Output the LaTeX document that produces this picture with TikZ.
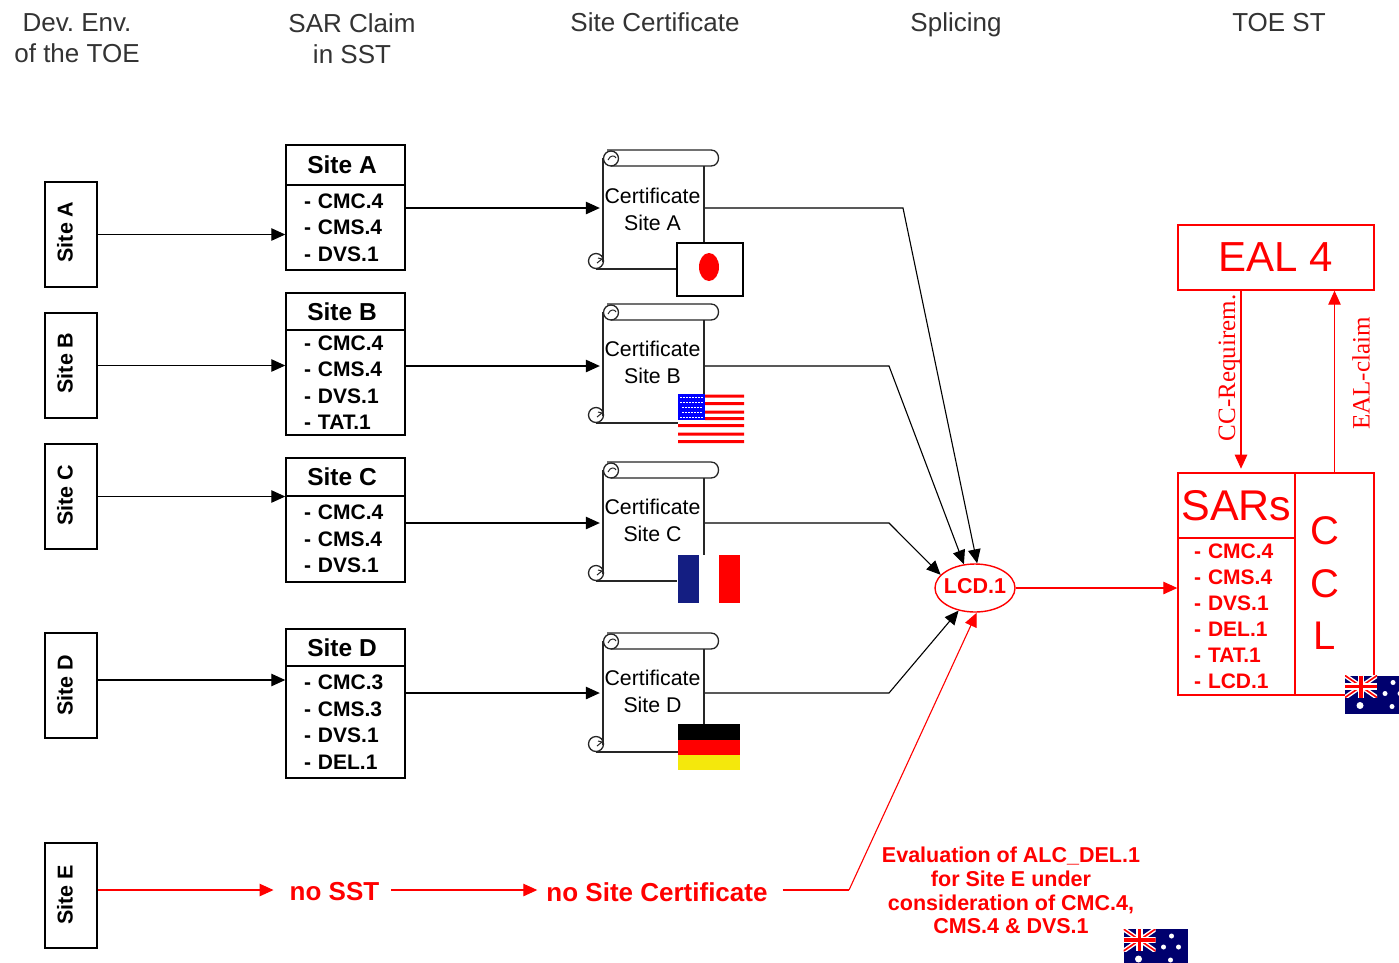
\documentclass[tikz,border=0pt]{standalone}
\usepackage{fontspec}
\setmainfont{Liberation Sans}
\newfontfamily\claimfont{Liberation Serif}
\usetikzlibrary{arrows.meta,shapes.geometric}
\definecolor{flagnavy}{RGB}{0,0,110}
\definecolor{frblue}{RGB}{20,30,130}
\newcommand{\fsz}[1]{\fontsize{#1}{#1}\selectfont}
\tikzset{
  scroll/.pic={
    \draw[line width=1.3pt,black!85] (4,0) -- (108,0) .. controls (118,0) and (118,16) .. (108,16) -- (8,16);
    \draw[line width=1.3pt,black!85] (8,8.5) circle[radius=7.5pt];
    \draw[line width=1pt,black!85] (5,10) .. controls (7,5) and (12,5) .. (13,8);
    \draw[line width=1.3pt,black!85] (0,8) -- (0,112);
    \draw[line width=1.3pt,black!85] (101,16) -- (101,119) -- (-7,119);
    \draw[line width=1.3pt,black!85] (-7,111) circle[radius=7.5pt];
    \draw[line width=1pt,black!85] (-6,113) -- (-1,109) -- (-5,108);
  },
  ausflag/.pic={
    \fill[flagnavy] (0,0) rectangle (64,38);
    \begin{scope}
      \clip (0,0) rectangle (32,22);
      \draw[white,line width=4.5pt] (0,0) -- (32,22) (32,0) -- (0,22);
      \draw[red,line width=1.6pt] (0,0) -- (32,22) (32,0) -- (0,22);
      \draw[white,line width=6.5pt] (16,0) -- (16,22) (0,11) -- (32,11);
      \draw[red,line width=3.5pt] (16,0) -- (16,22) (0,11) -- (32,11);
    \end{scope}
    \fill[white] (48,7) circle[radius=2.5pt] (40,18) circle[radius=2.5pt] (55,18) circle[radius=2.5pt];
    \fill[white] (15,30) circle[radius=3.5pt] (47,31) circle[radius=2.5pt];
  }
}
\begin{document}
\begin{tikzpicture}[x=1pt,y=-1pt,
  headtwo/.style={font=\fsz{26},text=black!80,align=center,inner ysep=0pt},
  head/.style={headtwo,text height=18pt,text depth=5pt},
  sitebox/.style={rectangle,draw,line width=1.5pt,minimum width=52pt,minimum height=105pt},
  sitelab/.style={font=\fsz{21.5}\bfseries,rotate=90,inner sep=0pt},
  sarhead/.style={rectangle,draw,line width=1.7pt,minimum width=119pt,font=\fsz{24.5}\bfseries,inner sep=0pt,execute at end node=\hspace*{7pt}},
  sarlist/.style={rectangle,draw,line width=1.5pt,minimum width=119pt,text width=83pt,inner xsep=18pt,inner ysep=0pt,align=left,font=\fontsize{21}{26.5}\selectfont\bfseries},
  certtext/.style={minimum width=105pt,minimum height=90pt,inner sep=0pt,align=center,font=\fontsize{21.3}{27}\selectfont},
  conn/.style={line width=1.1pt,-{Triangle[length=14pt,width=12.5pt]}},
  redconn/.style={conn,red},
  redbox/.style={rectangle,draw=red,line width=1.4pt,text=red,inner sep=0pt},
  redtext/.style={text=red,font=\fsz{26}\bfseries,inner xsep=12pt,inner ysep=0pt},
  claim/.style={text=red,font=\fsz{25}\claimfont,rotate=90,inner sep=0pt}]
\clip (0,0) rectangle (1399,962);
\fill[white] (0,0) rectangle (1399,962);
% column titles
\node[headtwo] (hdev) at (77,38.5) {Dev.\ Env.\\[5pt]of the TOE};
\node[headtwo] (hsar) at (352,38.5) {SAR Claim\\[5pt]in SST};
\node[head] (hcert) at (655,24.5) {Site Certificate};
\node[head] (hspl) at (956,24.5) {Splicing};
\node[head] (htoe) at (1279,24.5) {TOE ST};
% sites
\node[sitebox] (sitea) at (71,234.5) {};
\node[sitebox] (siteb) at (71,365.5) {};
\node[sitebox] (sitec) at (71,496.5) {};
\node[sitebox] (sited) at (71,685.5) {};
\node[sitebox] (sitee) at (71,895.5) {};
\node[sitelab] (laba) at (65,232) {Site A};
\node[sitelab] (labb) at (65,363) {Site B};
\node[sitelab] (labc) at (65,495) {Site C};
\node[sitelab] (labd) at (65,685) {Site D};
\node[sitelab] (labe) at (65,895) {Site E};
% SAR claims
\node[sarhead,minimum height=40pt] (sarah) at (345.5,165) {Site A};
\node[sarlist,minimum height=85pt] (saral) at (345.5,227.5) {- CMC.4\\- CMS.4\\- DVS.1};
\node[sarhead,minimum height=37pt] (sarbh) at (345.5,311.5) {Site B};
\node[sarlist,minimum height=105pt] (sarbl) at (345.5,382.5) {- CMC.4\\- CMS.4\\- DVS.1\\- TAT.1};
\node[sarhead,minimum height=38pt] (sarch) at (345.5,477) {Site C};
\node[sarlist,minimum height=86pt] (sarcl) at (345.5,539) {- CMC.4\\- CMS.4\\- DVS.1};
\node[sarhead,minimum height=37pt] (sardh) at (345.5,647.5) {Site D};
\node[sarlist,minimum height=112pt] (sardl) at (345.5,722) {- CMC.3\\- CMS.3\\- DVS.1\\- DEL.1};
% certificates
\pic at (603,150) {scroll};
\pic at (603,304) {scroll};
\pic at (603,462) {scroll};
\pic at (603,633) {scroll};
\node[certtext] (certa) at (652.5,209.5) {Certificate\\Site A};
\node[certtext] (certb) at (652.5,362.5) {Certificate\\Site B};
\node[certtext] (certc) at (652.5,520) {Certificate\\Site C};
\node[certtext] (certd) at (652.5,691) {Certificate\\Site D};
% flags
\draw[fill=white,line width=1.3pt] (677,243) rectangle (743,296);
\fill[red] (709,267) ellipse[x radius=10pt,y radius=14pt];
\fill[white] (678,394) rectangle (744,444);
\fill[red] (705,394.5) rectangle (744,397.5) (705,402) rectangle (744,405) (705,410.5) rectangle (744,413.5) (705,417) rectangle (744,420);
\fill[red] (678,424) rectangle (744,427) (678,432.5) rectangle (744,435.5) (678,440) rectangle (744,443);
\fill[blue] (678,394) rectangle (705,420);
\draw[white,line width=1pt,dash pattern=on 1.5pt off 1.5pt] (680,397) -- (704,397) (680,402) -- (704,402) (682,407) -- (702,407) (682,412) -- (702,412) (680,417) -- (704,417);
\fill[white] (677,555) rectangle (719,603);
\fill[frblue] (678,555) rectangle (699,603);
\fill[red] (719,555) rectangle (740,603);
\fill[black] (678,724) rectangle (740,740);
\fill[red] (678,740) rectangle (740,755);
\fill[yellow!95!black] (678,755) rectangle (740,770);
% splicing
\node[ellipse,draw=red,line width=1.4pt,minimum width=80pt,minimum height=48pt,inner sep=0pt] (lcd) at (975,588) {};
\node[text=red,inner sep=0pt,font=\fsz{21.5}\bfseries] (lcdlab) at (975,586.5) {LCD.1};
\coordinate (benda) at (903,208);
\coordinate (bendb) at (889,366);
\coordinate (bendc) at (889,523);
\coordinate (bendd) at (889,693);
\coordinate (bende) at (849,890);
% TOE ST
\node[redbox,minimum width=196pt,minimum height=65pt,font=\fsz{42}] (eal) at (1276,257.5) {EAL 4};
\node[redbox,minimum width=117pt,minimum height=65pt,font=\fsz{43}] (sarsh) at (1236.5,505.5) {\raisebox{-2pt}{SARs}};
\node[redbox,minimum width=117pt,minimum height=157pt,text width=85pt,align=left,font=\fontsize{21}{26}\selectfont\bfseries] (sarsl) at (1236.5,616.5) {- CMC.4\\- CMS.4\\- DVS.1\\- DEL.1\\- TAT.1\\- LCD.1};
\node[redbox,minimum width=79pt,minimum height=222pt] (ccl) at (1334.5,584) {};
\node[text=red,align=center,inner sep=0pt,font=\fontsize{40}{52.5}\selectfont] (ccllab) at (1325,583.5) {C\\C\\L};
\pic at (1345,675.5) {ausflag};
\pic at (1123.5,929) {ausflag};
\node[claim] (ccreq) at (1229.5,368) {CC-Requirem.};
\node[claim] (ealcl) at (1361,373.5) {EAL-claim};
% bottom row
\node[redtext] (nosst) at (334.5,892) {no SST};
\node[redtext] (nocert) at (657,892) {no Site Certificate};
\node[text=red,align=center,inner sep=0pt,font=\fontsize{21.5}{23.7}\selectfont\bfseries] (evalt) at (1011,890.5) {Evaluation of ALC\_DEL.1\\for Site E under\\consideration of CMC.4,\\CMS.4 \& DVS.1};
% connectors
\draw[conn] (sitea.east) -- (sitea.east -| saral.west);
\draw[conn] (siteb.east) -- (siteb.east -| sarbl.west);
\draw[conn] (sitec.east) -- (sitec.east -| sarcl.west);
\draw[conn] ([yshift=5.5pt]sited.east) -- ([yshift=5.5pt]sited.east -| sardl.west);
\draw[conn] (saral.east |- benda) -- (certa.west |- benda);
\draw[conn] (sarbl.east |- bendb) -- (certb.west |- bendb);
\draw[conn] (sarcl.east |- bendc) -- (certc.west |- bendc);
\draw[conn] (sardl.east |- bendd) -- (certd.west |- bendd);
\draw[conn] (certa.east |- benda) -- (benda) -- (lcd.85);
\draw[conn] (certb.east |- bendb) -- (bendb) -- (lcd.115);
\draw[conn] (certc.east |- bendc) -- (bendc) -- (lcd.159);
\draw[conn] (certd.east |- bendd) -- (bendd) -- (lcd.234);
\draw[redconn] (lcd.east) -- (lcd.east -| sarsl.west);
\draw[redconn] (eal.south -| sarsh.center) ++(4.5,0) -- ++(0,178);
\draw[redconn] (ccl.north) -- (ccl.north |- eal.south);
\draw[redconn] ([yshift=5.5pt]sitee.east) -- ([xshift=-4pt,yshift=5.5pt]sitee.east -| nosst.west);
\draw[redconn] ([yshift=2pt]nosst.east) -- ([xshift=3pt,yshift=2pt]nocert.west);
\draw[red,line width=1.1pt] ([xshift=3pt,yshift=2pt]nocert.east) -- (bende);
\draw[redconn] (bende) -- (lcd.274);
\end{tikzpicture}
\end{document}
